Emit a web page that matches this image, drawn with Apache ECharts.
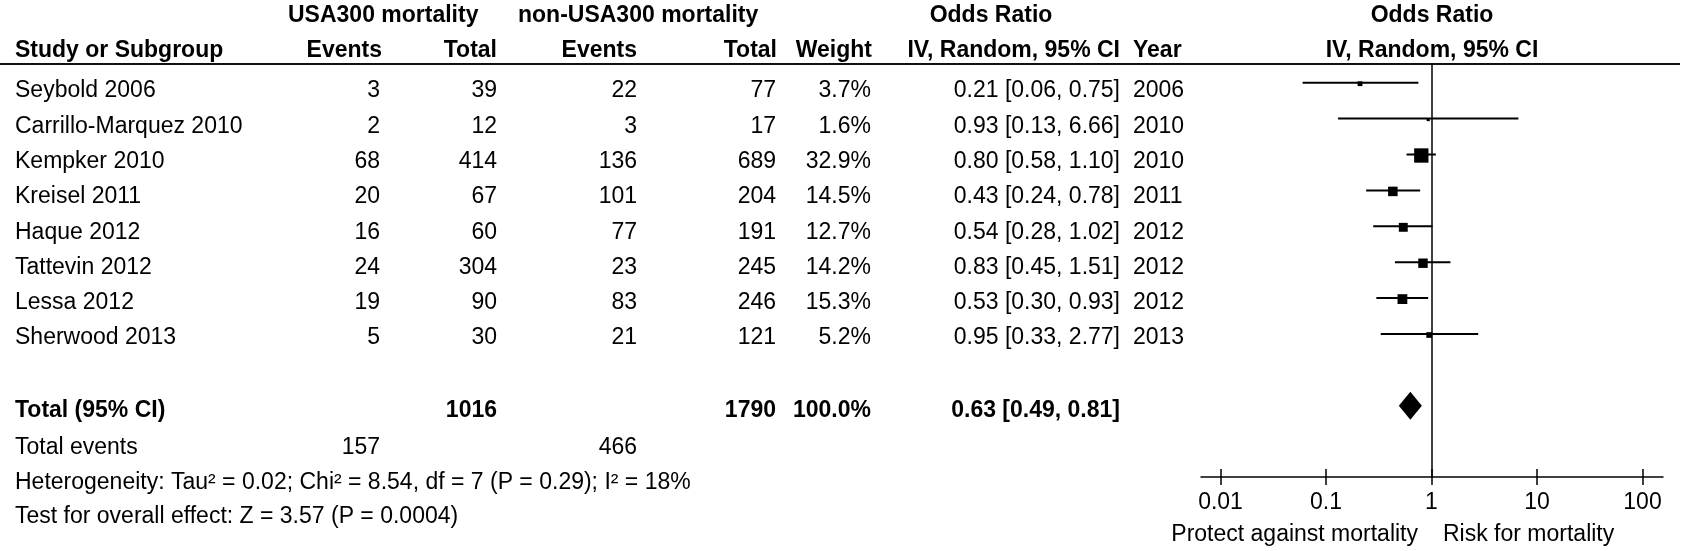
<!DOCTYPE html>
<html><head><meta charset="utf-8">
<script src="https://cdn.jsdelivr.net/npm/echarts@6/dist/echarts.min.js"></script>
<style>html,body{margin:0;padding:0;background:#fff}#chart{width:1692px;height:551px}</style>
</head><body><div id="chart"></div>
<script>
// ---------- data ----------
const studies = ['Seybold 2006','Carrillo-Marquez 2010','Kempker 2010','Kreisel 2011','Haque 2012','Tattevin 2012','Lessa 2012','Sherwood 2013'];
const usaEvents = [3, 2, 68, 20, 16, 24, 19, 5];
const usaTotal = [39, 12, 414, 67, 60, 304, 90, 30];
const nonEvents = [22, 3, 136, 101, 77, 23, 83, 21];
const nonTotal = [77, 17, 689, 204, 191, 245, 246, 121];
const weights = [3.7, 1.6, 32.9, 14.5, 12.7, 14.2, 15.3, 5.2];
const orValues = [0.21, 0.93, 0.80, 0.43, 0.54, 0.83, 0.53, 0.95];
const ciLow = [0.06, 0.13, 0.58, 0.24, 0.28, 0.45, 0.30, 0.33];
const ciHigh = [0.75, 6.66, 1.10, 0.78, 1.02, 1.51, 0.93, 2.77];
const years = [2006, 2010, 2010, 2011, 2012, 2012, 2012, 2013];
const pooled = [0.63, 0.49, 0.81];            // OR, low, high
const totalCounts = [1016, 1790];             // USA300 total, non-USA300 total
const totalWeight = '100.0%';
const totalEvents = [157, 466];
const heterogeneityText = 'Heterogeneity: Tau² = 0.02; Chi² = 8.54, df = 7 (P = 0.29); I² = 18%';
const overallText = 'Test for overall effect: Z = 3.57 (P = 0.0004)';
const axisTicks = [0.01, 0.1, 1, 10, 100];
const favourLeft = 'Protect against mortality';
const favourRight = 'Risk for mortality';

// ---------- layout ----------
const FONT = '"Liberation Sans", Arial, Helvetica, sans-serif';
const FS = 23;
const TOTAL_ROW = 9;
const COL = {
  name: {x: 15, align: 'left'},
  ue: {x: 380, align: 'right'},
  ut: {x: 497, align: 'right'},
  ne: {x: 637, align: 'right'},
  nt: {x: 776, align: 'right'},
  w: {x: 871, align: 'right'},
  ci: {x: 1120, align: 'right'},
  yr: {x: 1133, align: 'left'}
};
const fmt2 = v => v.toFixed(2);
const ciText = (o, l, h) => fmt2(o) + ' [' + fmt2(l) + ', ' + fmt2(h) + ']';

// table rows
const tableRows = [];
studies.forEach((s, i) => {
  tableRows.push({row: i, cells: [
    ['name', s], ['ue', usaEvents[i]], ['ut', usaTotal[i]], ['ne', nonEvents[i]], ['nt', nonTotal[i]],
    ['w', weights[i].toFixed(1) + '%'], ['ci', ciText(orValues[i], ciLow[i], ciHigh[i])], ['yr', years[i]]
  ]});
});
tableRows.push({row: TOTAL_ROW + 0.05, bold: true, cells: [
  ['name', 'Total (95% CI)'], ['ut', totalCounts[0]], ['nt', totalCounts[1]], ['w', totalWeight],
  ['ci', ciText(pooled[0], pooled[1], pooled[2])]
]});
tableRows.push({row: TOTAL_ROW + 1.1, cells: [['name', 'Total events'], ['ue', totalEvents[0]], ['ne', totalEvents[1]]]});
tableRows.push({row: TOTAL_ROW + 2.1, cells: [['name', heterogeneityText]]});
tableRows.push({row: TOTAL_ROW + 3.05, cells: [['name', overallText]]});

function renderTableRow(params, api) {
  const r = tableRows[params.dataIndex];
  const y = api.coord([0, api.value(1)])[1];
  return {
    type: 'group',
    children: r.cells.map(c => ({
      type: 'text',
      style: {
        text: String(c[1]), x: COL[c[0]].x, y: y,
        align: COL[c[0]].align, verticalAlign: 'middle',
        font: (r.bold ? 'bold ' : '') + FS + 'px ' + FONT, fill: '#000'
      }
    }))
  };
}

function renderStudy(params, api) {
  const row = api.value(0);
  const p = api.coord([api.value(1), row]);
  const l = api.coord([api.value(2), row]);
  const h = api.coord([api.value(3), row]);
  const side = 2.5 * Math.sqrt(api.value(4));
  return {type: 'group', children: [
    {type: 'line', shape: {x1: l[0], y1: l[1], x2: h[0], y2: h[1]}, style: {stroke: '#000', lineWidth: 2}},
    {type: 'rect', shape: {x: p[0] - side / 2, y: p[1] - side / 2 + 1, width: side, height: side}, style: {fill: '#000'}}
  ]};
}

function renderPooled(params, api) {
  const row = api.value(0);
  const c = api.coord([api.value(1), row]);
  const l = api.coord([api.value(2), row]);
  const h = api.coord([api.value(3), row]);
  const hh = 14;
  return {type: 'polygon', shape: {points: [[l[0], c[1]], [c[0], c[1] - hh], [h[0], c[1]], [c[0], c[1] + hh]]}, style: {fill: '#000'}};
}

const tickFmt = v => String(parseFloat(Number(v).toPrecision(6)));
const hdr = (text, x, y, align, bold) => ({
  type: 'text', silent: true,
  style: {text, x, y, align, verticalAlign: 'middle', font: (bold ? 'bold ' : '') + FS + 'px ' + FONT, fill: '#000'}
});
const H1 = 15.5, H2 = 50.5;

const chart = echarts.init(document.getElementById('chart'), null, {renderer: 'canvas'});
chart.setOption({
  animation: false,
  backgroundColor: '#fff',
  textStyle: {fontFamily: FONT},
  grid: [
    {left: 1201, right: 29, top: 64, bottom: 74},
    {left: 0, right: 0, top: 0, bottom: 0}
  ],
  xAxis: [
    {gridIndex: 0, type: 'log', logBase: 10, min: 0.00653, max: 156.4, position: 'bottom',
      axisLine: {show: true, onZero: false, lineStyle: {color: '#000', width: 1.5}},
      axisTick: {show: true, customValues: axisTicks, length: 8, inside: false, lineStyle: {color: '#000', width: 1.5}},
      axisLabel: {customValues: axisTicks, formatter: tickFmt, fontSize: FS, color: '#000', margin: 14, fontFamily: FONT},
      splitLine: {show: false}, minorTick: {show: false}},
    {gridIndex: 0, type: 'log', logBase: 10, min: 0.00653, max: 156.4, position: 'bottom',
      axisLine: {show: false, onZero: false},
      axisTick: {show: true, customValues: axisTicks, length: 8, inside: true, lineStyle: {color: '#000', width: 1.5}},
      axisLabel: {show: false}, splitLine: {show: false}},
    {gridIndex: 1, type: 'value', min: 0, max: 1, show: false}
  ],
  yAxis: [
    {gridIndex: 0, type: 'value', inverse: true, min: -0.521, max: 10.983, show: false},
    {gridIndex: 1, type: 'value', inverse: true, min: -2.578, max: 13.031, show: false}
  ],
  series: [
    {type: 'custom', xAxisIndex: 0, yAxisIndex: 0, renderItem: renderStudy,
      encode: {x: [1, 2, 3], y: 0},
      data: studies.map((s, i) => [i, orValues[i], ciLow[i], ciHigh[i], weights[i]]),
      markLine: {silent: true, symbol: ['none', 'none'], label: {show: false},
        lineStyle: {color: '#000', width: 1.5, type: 'solid'}, data: [{xAxis: 1}]}},
    {type: 'custom', xAxisIndex: 0, yAxisIndex: 0, renderItem: renderPooled,
      encode: {x: [1, 2, 3], y: 0},
      data: [[TOTAL_ROW, pooled[0], pooled[1], pooled[2]]]},
    {type: 'custom', xAxisIndex: 2, yAxisIndex: 1, renderItem: renderTableRow,
      data: tableRows.map(r => [0, r.row])}
  ],
  graphic: [
    hdr('USA300 mortality', 288, H1, 'left', true),
    hdr('non-USA300 mortality', 518, H1, 'left', true),
    hdr('Odds Ratio', 991, H1, 'center', true),
    hdr('Odds Ratio', 1432, H1, 'center', true),
    hdr('Study or Subgroup', 15, H2, 'left', true),
    hdr('Events', 382, H2, 'right', true),
    hdr('Total', 497, H2, 'right', true),
    hdr('Events', 637, H2, 'right', true),
    hdr('Total', 777, H2, 'right', true),
    hdr('Weight', 872, H2, 'right', true),
    hdr('IV, Random, 95% CI', 1120, H2, 'right', true),
    hdr('Year', 1133, H2, 'left', true),
    hdr('IV, Random, 95% CI', 1432, H2, 'center', true),
    {type: 'line', silent: true, shape: {x1: 0, y1: 64, x2: 1680, y2: 64}, style: {stroke: '#111', lineWidth: 2}},
    hdr(favourLeft, 1418, 535, 'right', false),
    hdr(favourRight, 1443, 535, 'left', false)
  ]
});
</script></body></html>
